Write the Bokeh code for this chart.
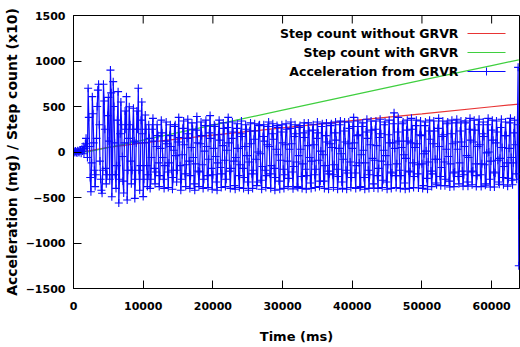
import numpy as np
from bokeh.plotting import figure
from bokeh.models import Range1d, FixedTicker
from bokeh.embed import file_html
from bokeh.resources import INLINE
from bokeh.core.properties import value

# ---------------- data ----------------
series_names = ["Step count without GRVR", "Step count with GRVR", "Acceleration from GRVR"]

# step counts (x10)
steps_nogrvr_t = [0, 2000, 5000, 10000, 20000, 30000, 40000, 50000, 60000, 63900]
steps_nogrvr_v = [0, 10, 50, 100, 185, 265, 345, 420, 497, 527]

steps_grvr_t = [0, 2000, 10000, 20000, 30000, 40000, 50000, 60000, 63900]
steps_grvr_v = [0, 0, 130, 295, 460, 625, 790, 950, 1012]

# acceleration (mg), one row per second, sampled every 100 ms
SAMPLE_MS = 100
accel_rows = [
    [0, 5, -5, 10, 0, -10, 15, 5, -5, 10],
    [20, -15, 30, 10, 60, -20, 40, 90, 150, 60],
    [-60, 700, 380, 60, -280, -436, -120, 608, 420, 100],
    [-200, -380, -250, 150, 500, 680, 745, 300, -100, -300],
    [-420, -454, -200, 745, 560, 250, -180, -350, -250, 400],
    [600, 120, -300, 900, 650, -491, -250, 773, 500, 100],
    [-250, -400, -150, 350, 663, -560, -300, 200, 550, 300],
    [-50, -320, -450, 100, 450, 250, 608, -527, -200, 150],
    [498, 300, -100, -350, -200, 250, 480, 120, -510, -300],
    [100, 450, 250, 700, -200, -420, -150, 350, 550, 200],
    [-490, -300, 100, 406, 250, -150, -380, -250, 300, 150],
    [-400, -300, -60, 250, 370, 120, -180, -350, -220, 60],
    [300, 180, -120, -380, -260, 40, 350, 210, -60, -300],
    [-400, -150, 120, 330, 90, -220, -390, -120, 180, 300],
    [60, -200, -410, -280, 20, 280, 300, -40, -330, -200],
    [110, 380, 160, -150, -420, -300, -30, 260, 340, 80],
    [-240, -380, -140, 150, 360, 200, -100, -400, -260, 50],
    [320, 250, -60, -350, -420, -130, 240, 390, 100, -210],
    [-380, -220, 90, 330, 180, -140, -400, -300, 10, 290],
    [350, 60, -260, -390, -80, 210, 400, 150, -180, -410],
    [-250, 40, 300, 280, -50, -330, -420, -120, 190, 350],
    [130, -170, -390, -240, 70, 320, 260, -90, -380, -300],
    [20, 270, 380, 100, -210, -400, -180, 150, 330, 220],
    [-100, -370, -410, -60, 260, 310, 40, -260, -390, -140],
    [200, 340, 170, -180, -400, -280, 60, 300, 250, -40],
    [-330, -420, -110, 230, 320, 90, -240, -400, -200, 140],
    [310, 230, -80, -370, -330, 0, 290, 300, -20, -310],
    [-410, -160, 170, 300, 120, -200, -390, -260, 80, 280],
    [330, 60, -240, -400, -150, 200, 310, 140, -180, -420],
    [-280, 30, 290, 270, -30, -320, -410, -90, 220, 300],
    [100, -190, -400, -250, 80, 310, 250, -100, -380, -290],
    [30, 260, 330, 90, -220, -405, -160, 170, 300, 200],
    [-110, -380, -390, -40, 270, 290, 30, -270, -400, -130],
    [210, 320, 160, -190, -410, -260, 70, 320, 230, -60],
    [-340, -400, -100, 240, 300, 80, -250, -390, -190, 150],
    [330, 210, -90, -380, -320, 10, 280, 310, -30, -320],
    [-400, -150, 180, 320, 110, -210, -410, -240, 90, 290],
    [310, 50, -250, -390, -140, 210, 330, 130, -190, -410],
    [-270, 40, 300, 340, -20, -330, -400, -80, 230, 330],
    [110, -200, -410, -230, 90, 330, 260, -110, -390, -280],
    [40, 280, 380, 100, -230, -400, -150, 180, 340, 190],
    [-120, -390, -380, -30, 280, 320, 20, -280, -410, -120],
    [220, 360, 150, -200, -400, -250, 80, 340, 240, -70],
    [-350, -395, -90, 250, 340, 70, -260, -400, -180, 160],
    [360, 200, -100, -390, -310, 20, 300, 330, -40, -330],
    [-410, -140, 190, 350, 100, -220, -400, -230, 100, 310],
    [430, 40, -260, -390, -130, 220, 380, 120, -200, -400],
    [-260, 50, 310, 330, -30, -340, -410, -70, 240, 350],
    [120, -210, -400, -220, 100, 370, 250, -120, -390, -270],
    [50, 290, 350, 90, -240, -395, -140, 190, 340, 180],
    [-130, -400, -370, -20, 290, 330, 10, -290, -410, -110],
    [230, 350, 140, -210, -380, -240, 90, 340, 230, -80],
    [-340, -360, -80, 260, 370, 60, -270, -370, -170, 170],
    [340, 190, -110, -370, -300, 30, 310, 330, -50, -320],
    [-385, -130, 200, 350, 90, -230, -380, -220, 110, 320],
    [360, 30, -270, -350, -120, 230, 340, 110, -210, -375],
    [-250, 60, 320, 340, -40, -330, -375, -60, 250, 370],
    [130, -220, -360, -210, 110, 350, 240, -130, -380, -260],
    [60, 300, 360, 80, -250, -380, -130, 200, 330, 170],
    [-140, -365, -350, -10, 300, 370, 0, -300, -385, -100],
    [240, 350, 130, -220, -385, -230, 100, 340, 220, -90],
    [-330, -355, -70, 270, 360, 50, -280, -360, -160, 180],
    [330, 180, -120, -375, -290, 40, 320, 370, -60, -310],
    [-360, -120, 210, 350, 80, -240, -300, 300, 930, -1250],
]

x_ticks = [0, 10000, 20000, 30000, 40000, 50000, 60000]
y_ticks = [-1500, -1000, -500, 0, 500, 1000, 1500]

# ---------------- layout constants ----------------
W, H = 520, 347
BL, BR, BT, BB = 73, 1, 15, 59
X_MAX = 64000
Y_MIN, Y_MAX = -1500, 1500
FW, FH = W - BL - BR, H - BT - BB
TICK_LEN = 8

accel = [v for row in accel_rows for v in row]
accel_t = [i * SAMPLE_MS for i in range(len(accel))]

def px_to_x(px):
    return (px - BL) / FW * X_MAX

def py_to_y(py):
    return Y_MAX - (py - BT) / FH * (Y_MAX - Y_MIN)

RED = "#e83434"
GREEN = "#3fcf3f"
BLUE = "#0a0aff"
FONT = "DejaVu Sans"

p = figure(width=W, height=H, output_backend="svg", toolbar_location=None,
           x_range=Range1d(0, X_MAX), y_range=Range1d(Y_MIN, Y_MAX),
           min_border_left=BL, min_border_right=BR, min_border_top=BT,
           min_border_bottom=BB)
p.xgrid.visible = False
p.ygrid.visible = False
p.outline_line_color = "black"
p.outline_line_width = 1
p.background_fill_color = "white"
p.border_fill_color = "white"

# series
p.line(steps_nogrvr_t, steps_nogrvr_v, line_color=RED, line_width=1.2)
p.line(steps_grvr_t, steps_grvr_v, line_color=GREEN, line_width=1.2)
p.line(accel_t, accel, line_color=BLUE, line_width=1.2, line_alpha=1.0)
p.scatter(accel_t, accel, marker="cross", size=8, line_color=BLUE, line_width=1.1)

# mirrored ticks on the top border
p.segment(x0=x_ticks, y0=[Y_MAX] * len(x_ticks), x1=x_ticks,
          y1=[py_to_y(BT + TICK_LEN)] * len(x_ticks), line_color="black", line_width=1)

# axes
for ax in (p.xaxis[0], p.yaxis[0]):
    ax.axis_line_color = "black"
    ax.major_tick_line_color = "black"
    ax.major_tick_in = TICK_LEN
    ax.major_tick_out = 0
    ax.minor_tick_line_color = None
    ax.major_label_text_font = FONT
    ax.major_label_text_font_style = "bold"
    ax.major_label_text_font_size = "11px"
    ax.major_label_text_color = "black"
    ax.axis_label_text_font = FONT
    ax.axis_label_text_font_style = "bold"
    ax.axis_label_text_color = "black"

p.xaxis[0].ticker = FixedTicker(ticks=x_ticks)
p.yaxis[0].ticker = FixedTicker(ticks=y_ticks)
p.xaxis[0].axis_label = "Time (ms)"
p.yaxis[0].axis_label = "Acceleration (mg) / Step count (x10)"
p.xaxis[0].axis_label_text_font_size = "13px"
p.yaxis[0].axis_label_text_font_size = "14px"
p.xaxis[0].major_label_standoff = 13
p.yaxis[0].major_label_standoff = 8
p.xaxis[0].axis_label_standoff = 16
p.yaxis[0].axis_label_standoff = 3

# legend (gnuplot style: text right, sample to the right)
leg_rows_py = [33, 52, 71]
leg_text_px = 458
leg_line_px = (467, 505)
colors = [RED, GREEN, BLUE]
p.text(x=[px_to_x(leg_text_px)] * 3, y=[py_to_y(v) for v in leg_rows_py], text=series_names,
       text_font=value(FONT), text_font_style="bold", text_font_size="12.5px",
       text_align="right", text_baseline="middle", text_color="black")
for c, py in zip(colors, leg_rows_py):
    yy = py_to_y(py)
    p.line([px_to_x(leg_line_px[0]), px_to_x(leg_line_px[1])], [yy, yy], line_color=c, line_width=1.2)
p.scatter([px_to_x(486)], [py_to_y(leg_rows_py[2])], marker="cross", size=8,
          line_color=BLUE, line_width=1)

open("out.html", "w").write(file_html(p, INLINE))
